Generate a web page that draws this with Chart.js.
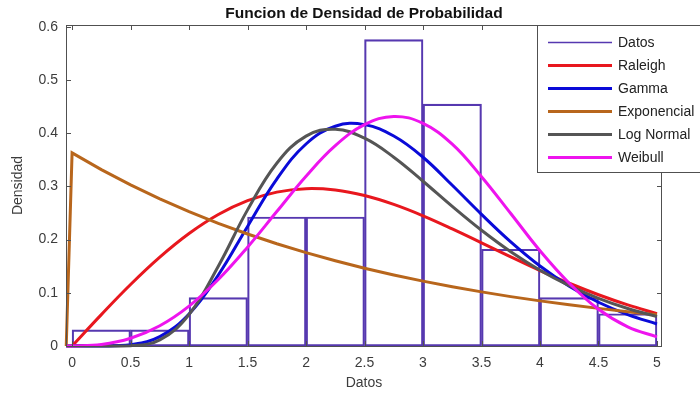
<!DOCTYPE html>
<html>
<head>
<meta charset="utf-8">
<title>Funcion de Densidad de Probabilidad</title>
<script src="https://cdn.jsdelivr.net/npm/chart.js@4.4.1/dist/chart.umd.min.js"></script>
<style>
  html, body { margin: 0; padding: 0; background: #fff; }
  #contenedor { width: 700px; height: 396px; }
</style>
</head>
<body>
<div id="contenedor"><canvas id="graficaDensidad"></canvas></div>
<script>
// histograma: centros de cada barra (ancho 0.5) y densidad normalizada
const centrosBarras = [0.25, 0.75, 1.25, 1.75, 2.25, 2.75, 3.25, 3.75, 4.25, 4.75];
const densidadDatos = [0.0303, 0.0303, 0.0909, 0.2424, 0.2424, 0.5758, 0.4545, 0.1818, 0.0909, 0.0606];

// curvas ajustadas, evaluadas en xCurva
const xCurva = [-0.05, 0, 0.25, 0.5, 0.75, 1, 1.25, 1.5, 1.75, 2, 2.25, 2.5, 2.75, 3, 3.25, 3.5, 3.75, 4, 4.25, 4.5, 4.75, 5];
const raleigh     = [null, 0, 0.059, 0.1155, 0.1669, 0.2113, 0.247, 0.2731, 0.2892, 0.2957, 0.2931, 0.2828, 0.2661, 0.2447, 0.2201, 0.1939, 0.1675, 0.1418, 0.1179, 0.0963, 0.0772, 0.0608];
const gamma       = [0, 0, 0, 0.0024, 0.0177, 0.0603, 0.1334, 0.2247, 0.3136, 0.3796, 0.413, 0.416, 0.3945, 0.3547, 0.302, 0.2473, 0.1956, 0.1502, 0.1124, 0.0822, 0.0589, 0.0414];
const exponencial = [0, 0.363, 0.3315, 0.3027, 0.2764, 0.2523, 0.2304, 0.2104, 0.1921, 0.1754, 0.1602, 0.1462, 0.1335, 0.1219, 0.1113, 0.1017, 0.0928, 0.0848, 0.0774, 0.0707, 0.0645, 0.0589];
const logNormal   = [0, 0, 0, 0.0005, 0.0115, 0.0592, 0.1499, 0.2558, 0.3434, 0.3944, 0.4074, 0.3905, 0.3547, 0.3096, 0.2623, 0.2174, 0.1771, 0.1424, 0.1134, 0.0896, 0.0705, 0.0552];
const weibull     = [0, 0, 0.0028, 0.0145, 0.0381, 0.075, 0.1249, 0.1856, 0.2526, 0.3191, 0.3765, 0.4159, 0.4314, 0.4183, 0.3793, 0.3182, 0.249, 0.179, 0.118, 0.069, 0.036, 0.017];

const ticksX = [0, 0.5, 1, 1.5, 2, 2.5, 3, 3.5, 4, 4.5, 5];
const ticksY = [0, 0.1, 0.2, 0.3, 0.4, 0.5, 0.6];

const FUENTE = "'Liberation Sans', Arial, sans-serif";
const COLOR_EJE = "#505050";
const COLOR_TEXTO = "#3c3c3c";

function puntos(ys) {
    return xCurva.map((x, i) => ({ x: x, y: ys[i] }));
}

function curva(etiqueta, ys, color, orden, tension) {
    return {
        type: "line",
        label: etiqueta,
        data: puntos(ys),
        borderColor: color,
        backgroundColor: color,
        borderWidth: 3,
        pointRadius: 0,
        fill: false,
        tension: tension,
        clip: 3,
        order: orden
    };
}

// marco de ejes con marcas hacia dentro en los cuatro lados
const marcoEjes = {
    id: "marcoEjes",
    afterDatasetsDraw(chart) {
        const { ctx, chartArea: a, scales } = chart;
        const largo = 5;
        ctx.save();
        ctx.strokeStyle = COLOR_EJE;
        ctx.lineWidth = 1;
        ctx.strokeRect(a.left + 0.5, a.top + 0.5, a.right - a.left - 1, a.bottom - a.top);
        ctx.beginPath();
        ticksX.forEach(v => {
            const px = Math.round(scales.x.getPixelForValue(v)) + 0.5;
            ctx.moveTo(px, a.bottom); ctx.lineTo(px, a.bottom - largo);
            ctx.moveTo(px, a.top); ctx.lineTo(px, a.top + largo);
        });
        ticksY.forEach(v => {
            const py = Math.round(scales.y.getPixelForValue(v)) + 0.5;
            ctx.moveTo(a.left, py); ctx.lineTo(a.left + largo, py);
            ctx.moveTo(a.right, py); ctx.lineTo(a.right - largo, py);
        });
        ctx.stroke();
        ctx.restore();
    }
};

// titulo centrado sobre el area de la grafica
const tituloCentrado = {
    id: "tituloCentrado",
    afterDraw(chart) {
        const { ctx, chartArea: a } = chart;
        ctx.save();
        ctx.font = "bold 15.5px " + FUENTE;
        ctx.fillStyle = "#111";
        ctx.textAlign = "center";
        ctx.textBaseline = "alphabetic";
        ctx.fillText("Funcion de Densidad de Probabilidad", (a.left + a.right) / 2, 17.5);
        ctx.restore();
    }
};

// leyenda en la esquina superior derecha
const leyendaCaja = {
    id: "leyendaCaja",
    afterDraw(chart) {
        const { ctx } = chart;
        const orden = ["Datos", "Raleigh", "Gamma", "Exponencial", "Log Normal", "Weibull"];
        const x0 = 537.5, y0 = 25.5, ancho = 170, alto = 147;
        ctx.save();
        ctx.fillStyle = "#fff";
        ctx.fillRect(x0, y0, ancho, alto);
        ctx.strokeStyle = COLOR_EJE;
        ctx.lineWidth = 1;
        ctx.strokeRect(x0, y0, ancho, alto);
        ctx.font = "14px " + FUENTE;
        ctx.textBaseline = "middle";
        ctx.textAlign = "left";
        orden.forEach((nombre, i) => {
            const ds = chart.data.datasets.find(d => d.label === nombre);
            const y = 42.5 + i * 23;
            ctx.strokeStyle = ds.borderColor;
            ctx.lineWidth = ds.type === "bar" ? 1.5 : 3;
            ctx.beginPath();
            ctx.moveTo(548, y);
            ctx.lineTo(612, y);
            ctx.stroke();
            ctx.fillStyle = "#222";
            ctx.fillText(nombre, 618, y + 0.5);
        });
        ctx.restore();
    }
};

const ctx = document.getElementById("graficaDensidad").getContext("2d");

new Chart(ctx, {
    type: "line",
    data: {
        datasets: [
            {
                type: "bar",
                label: "Datos",
                data: centrosBarras.map((x, i) => ({ x: x, y: densidadDatos[i] })),
                backgroundColor: "rgba(0,0,0,0)",
                borderColor: "#5638b0",
                borderWidth: 1.5,
                borderSkipped: false,
                barPercentage: 1,
                categoryPercentage: 1,
                order: 6
            },
            curva("Raleigh", raleigh, "#e8171e", 5, 0.4),
            curva("Gamma", gamma, "#0a0ad8", 4, 0.4),
            curva("Exponencial", exponencial, "#b8661c", 3, 0),
            curva("Log Normal", logNormal, "#555555", 2, 0.4),
            curva("Weibull", weibull, "#ee14ee", 1, 0.4)
        ]
    },
    options: {
        responsive: true,
        maintainAspectRatio: false,
        animation: false,
        layout: { padding: { top: 25, right: 38, left: 0, bottom: 0 } },
        plugins: {
            legend: { display: false },
            tooltip: { enabled: false },
            title: { display: false }
        },
        scales: {
            x: {
                type: "linear",
                min: -0.052,
                max: 5.043,
                offset: false,
                grid: { display: false, drawTicks: false },
                border: { display: false },
                afterBuildTicks: scale => { scale.ticks = ticksX.map(v => ({ value: v })); },
                afterFit: scale => { scale.height = 50; },
                ticks: {
                    autoSkip: false,
                    maxRotation: 0,
                    padding: 9,
                    color: COLOR_TEXTO,
                    font: { family: FUENTE, size: 14 },
                    callback: v => String(v)
                },
                title: {
                    display: true,
                    text: "Datos",
                    color: COLOR_TEXTO,
                    font: { family: FUENTE, size: 14 },
                    padding: { top: 0, bottom: 4 }
                }
            },
            y: {
                min: 0,
                max: 0.6032,
                grid: { display: false, drawTicks: false },
                border: { display: false },
                afterBuildTicks: scale => { scale.ticks = ticksY.map(v => ({ value: v })); },
                afterFit: scale => { scale.width = 66; },
                ticks: {
                    padding: 8,
                    color: COLOR_TEXTO,
                    font: { family: FUENTE, size: 14 },
                    callback: v => String(v)
                },
                title: {
                    display: true,
                    text: "Densidad",
                    color: COLOR_TEXTO,
                    font: { family: FUENTE, size: 14 },
                    padding: { top: 10, bottom: 0 }
                }
            }
        }
    },
    plugins: [marcoEjes, tituloCentrado, leyendaCaja]
});
</script>
</body>
</html>
